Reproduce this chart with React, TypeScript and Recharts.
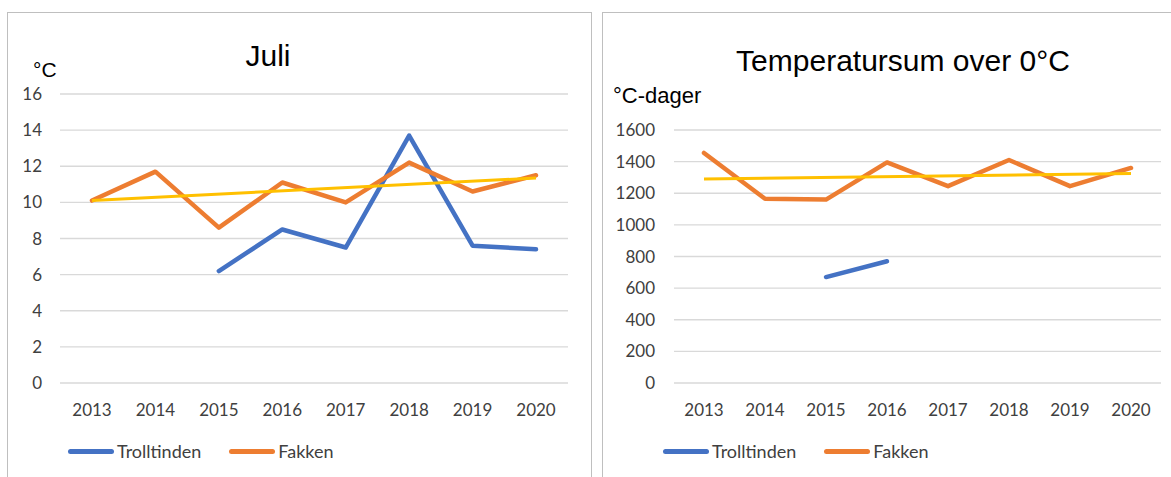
import { LineChart, Line, XAxis, YAxis, CartesianGrid, Legend } from 'recharts';

const years = ['2013', '2014', '2015', '2016', '2017', '2018', '2019', '2020'];

// Juli, mean temperature (°C)
const juliTrolltinden = [null, null, 6.2, 8.5, 7.5, 13.7, 7.6, 7.4];
const juliFakken = [10.1, 11.7, 8.6, 11.1, 10.0, 12.2, 10.6, 11.5];
const juliTrend = [10.1, null, null, null, null, null, null, 11.35];
const juliTicks = [0, 2, 4, 6, 8, 10, 12, 14, 16];

// Temperatursum over 0°C (°C-dager)
const sumTrolltinden = [null, null, 670, 770, null, null, null, null];
const sumFakken = [1455, 1165, 1160, 1395, 1245, 1410, 1245, 1360];
const sumTrend = [1290, null, null, null, null, null, null, 1325];
const sumTicks = [0, 200, 400, 600, 800, 1000, 1200, 1400, 1600];

const legendItems = [
  { name: 'Trolltinden', color: '#4472C4' },
  { name: 'Fakken', color: '#ED7D31' },
];

const TICK_FONT = 'Lato, "Open Sans", sans-serif';
const TITLE_FONT = '"Liberation Sans", Arial, sans-serif';
const TEXT_COLOR = '#404040';

function buildRows(a: (number | null)[], b: (number | null)[], t: (number | null)[]) {
  return years.map((year, i) => ({
    year,
    Trolltinden: a[i],
    Fakken: b[i],
    Trend: t[i],
  }));
}

const renderLegend = () => (
  <div
    style={{
      display: 'flex',
      alignItems: 'center',
      fontFamily: TICK_FONT,
      fontSize: 18,
      color: TEXT_COLOR,
      whiteSpace: 'nowrap',
    }}
  >
    {legendItems.map((item, i) => (
      <div key={item.name} style={{ display: 'flex', alignItems: 'center', marginRight: i === 0 ? 28 : 0 }}>
        <span
          style={{
            display: 'inline-block',
            width: 46,
            height: 5,
            borderRadius: 2.5,
            background: item.color,
            marginRight: 3,
          }}
        />
        <span>{item.name}</span>
      </div>
    ))}
  </div>
);

interface PanelProps {
  left: number;
  width: number;
  boxWidth: number;
  showRightBorder: boolean;
  title: string;
  titleCenter: number;
  titleBaseline: number;
  unit: string;
  unitLeft: number;
  unitBaseline: number;
  unitSize: number;
  rows: ReturnType<typeof buildRows>;
  ticks: number[];
  yWidth: number;
  yTickMargin: number;
  rightMargin: number;
  topMargin: number;
  xPad: number;
}

function Panel(p: PanelProps) {
  const top = 12;
  const height = 465;
  return (
    <div
      style={{
        position: 'absolute',
        left: p.left,
        top,
        width: p.boxWidth,
        height: height + 10,
        borderTop: '1px solid #BFBFBF',
        borderLeft: '1px solid #BFBFBF',
        borderRight: p.showRightBorder ? '1px solid #BFBFBF' : 'none',
        boxSizing: 'border-box',
      }}
    >
      <div
        style={{
          position: 'absolute',
          left: p.titleCenter - p.left - 300,
          width: 600,
          textAlign: 'center',
          top: p.titleBaseline - top - 28,
          fontFamily: TITLE_FONT,
          fontSize: 30,
          lineHeight: '34px',
          color: '#000',
        }}
      >
        {p.title}
      </div>
      <div
        style={{
          position: 'absolute',
          left: p.unitLeft - p.left,
          top: p.unitBaseline - top - Math.round(p.unitSize * 0.95),
          fontFamily: TITLE_FONT,
          fontSize: p.unitSize,
          lineHeight: `${p.unitSize + 4}px`,
          color: '#000',
          whiteSpace: 'nowrap',
        }}
      >
        {p.unit}
      </div>
      <div style={{ position: 'absolute', left: -1, top: -1 }}>
        <LineChart
          width={p.width}
          height={height}
          data={p.rows}
          margin={{ top: p.topMargin, right: p.rightMargin, bottom: 64, left: 0 }}
        >
          <CartesianGrid vertical={false} stroke="#D9D9D9" strokeWidth={1.3} />
          <XAxis
            dataKey="year"
            axisLine={false}
            tickLine={false}
            height={30}
            tickMargin={15}
            padding={{ left: p.xPad, right: p.xPad }}
            tick={{ fill: TEXT_COLOR, fontSize: 17, fontFamily: TICK_FONT }}
            interval={0}
          />
          <YAxis
            domain={[p.ticks[0], p.ticks[p.ticks.length - 1]]}
            ticks={p.ticks}
            width={p.yWidth}
            axisLine={false}
            tickLine={false}
            tickMargin={p.yTickMargin}
            interval={0}
            tick={{ fill: TEXT_COLOR, fontSize: 17, fontFamily: TICK_FONT }}
          />
          <Legend
            layout="horizontal"
            verticalAlign="middle"
            align="center"
            content={renderLegend}
            wrapperStyle={{ top: 428, left: 61, width: 'auto' }}
          />
          <Line
            dataKey="Trolltinden"
            stroke="#4472C4"
            strokeWidth={4.5}
            dot={false}
            activeDot={false}
            strokeLinecap="round"
            strokeLinejoin="round"
            isAnimationActive={false}
          />
          <Line
            dataKey="Fakken"
            stroke="#ED7D31"
            strokeWidth={4.5}
            dot={false}
            activeDot={false}
            strokeLinecap="round"
            strokeLinejoin="round"
            isAnimationActive={false}
          />
          <Line
            dataKey="Trend"
            stroke="#FFC000"
            strokeWidth={3}
            dot={false}
            activeDot={false}
            connectNulls
            legendType="none"
            isAnimationActive={false}
          />
        </LineChart>
      </div>
    </div>
  );
}

export default function App() {
  return (
    <div
      style={{
        position: 'absolute',
        left: 0,
        top: 0,
        width: 1171,
        height: 477,
        background: '#fff',
        overflow: 'hidden',
      }}
    >
      <Panel
        left={7}
        width={584}
        boxWidth={585}
        showRightBorder
        title="Juli"
        titleCenter={267}
        titleBaseline={66}
        unit="°C"
        unitLeft={32}
        unitBaseline={76}
        unitSize={21}
        rows={buildRows(juliTrolltinden, juliFakken, juliTrend)}
        ticks={juliTicks}
        yWidth={53}
        yTickMargin={12}
        rightMargin={23}
        topMargin={82}
        xPad={32}
      />
      <Panel
        left={602}
        width={569}
        boxWidth={580}
        showRightBorder={false}
        title="Temperatursum over 0°C"
        titleCenter={902}
        titleBaseline={71}
        unit="°C-dager"
        unitLeft={612}
        unitBaseline={103}
        unitSize={22}
        rows={buildRows(sumTrolltinden, sumFakken, sumTrend)}
        ticks={sumTicks}
        yWidth={72}
        yTickMargin={13}
        rightMargin={10}
        topMargin={118}
        xPad={30}
      />
    </div>
  );
}
